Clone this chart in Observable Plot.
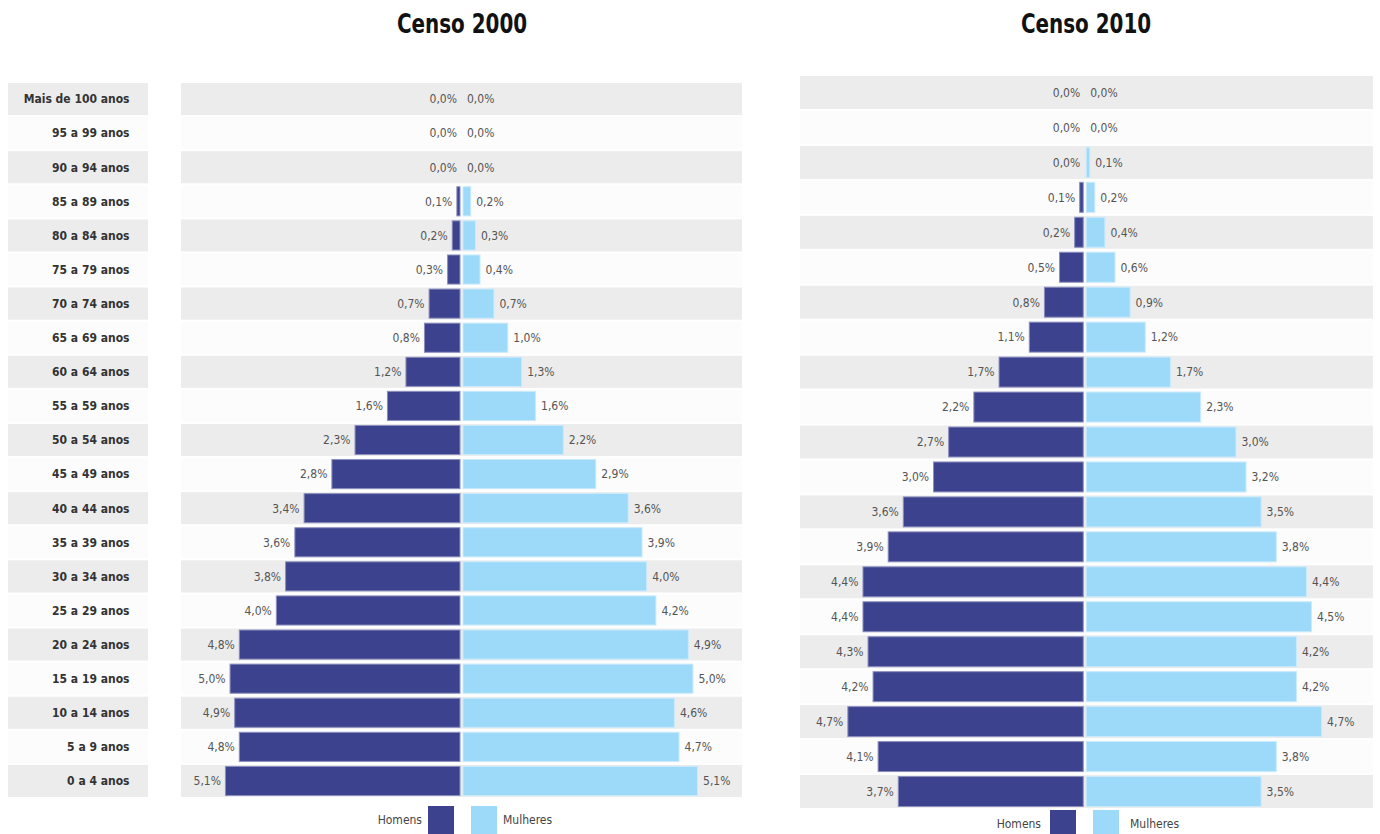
<!DOCTYPE html>
<html>
<head>
<meta charset="utf-8">
<script src="https://cdn.jsdelivr.net/npm/d3@7"></script>
<script src="https://cdn.jsdelivr.net/npm/@observablehq/plot@0.6"></script>
<style>
  html, body { margin: 0; padding: 0; background: #fff; }
  #root { position: relative; width: 1380px; height: 834px; overflow: hidden;
          font-family: "Liberation Sans Narrow", "Arial Narrow", "DejaVu Sans Condensed", sans-serif; }
  .abs { position: absolute; }
  .title { font-weight: bold; font-size: 27px; color: #111; text-align: center; width: 300px; top: 8px;
           transform: scaleX(0.82); transform-origin: center; }
  .leg { font-size: 12px; color: #444; }
  .sq { width: 26px; height: 28px; }
</style>
</head>
<body>
<div id="root"></div>
<script>
const ages = ["Mais de 100 anos","95 a 99 anos","90 a 94 anos","85 a 89 anos","80 a 84 anos","75 a 79 anos","70 a 74 anos","65 a 69 anos","60 a 64 anos","55 a 59 anos","50 a 54 anos","45 a 49 anos","40 a 44 anos","35 a 39 anos","30 a 34 anos","25 a 29 anos","20 a 24 anos","15 a 19 anos","10 a 14 anos","5 a 9 anos","0 a 4 anos"];
const homens2000   = [0.0,0.0,0.0,0.1,0.2,0.3,0.7,0.8,1.2,1.6,2.3,2.8,3.4,3.6,3.8,4.0,4.8,5.0,4.9,4.8,5.1];
const mulheres2000 = [0.0,0.0,0.0,0.2,0.3,0.4,0.7,1.0,1.3,1.6,2.2,2.9,3.6,3.9,4.0,4.2,4.9,5.0,4.6,4.7,5.1];
const homens2010   = [0.0,0.0,0.0,0.1,0.2,0.5,0.8,1.1,1.7,2.2,2.7,3.0,3.6,3.9,4.4,4.4,4.3,4.2,4.7,4.1,3.7];
const mulheres2010 = [0.0,0.0,0.1,0.2,0.4,0.6,0.9,1.2,1.7,2.3,3.0,3.2,3.5,3.8,4.4,4.5,4.2,4.2,4.7,3.8,3.5];
const titles = ["Censo 2000", "Censo 2010"];
const seriesNames = ["Homens", "Mulheres"];
const xDomain2000 = [-6.06, 6.06];
const xDomain2010 = [-5.65, 5.72];

const colMen = "#3c428d", colWomen = "#9dd9f9", colBand = "#ececec";
const FONT = '"Liberation Sans Narrow", "Arial Narrow", "DejaVu Sans Condensed", sans-serif';
const fmt = v => d3.format(".1f")(v).replace(".", ",") + "%";
const root = document.getElementById("root");

function place(el, left, top) {
  el.classList.add("abs");
  el.style.left = left + "px";
  el.style.top = top + "px";
  root.appendChild(el);
  return el;
}

function pyramid(men, women, xDomain, width, height) {
  const rows = ages.map((a, i) => ({age: a, i, men: men[i], women: women[i]}));
  return Plot.plot({
    width, height,
    marginTop: 22, marginBottom: 22, marginLeft: 0, marginRight: 0,
    style: {fontFamily: FONT, fontSize: "12px", background: "transparent"},
    x: {domain: xDomain, axis: null},
    y: {domain: ages, axis: null, padding: 0, round: false},
    marks: [
      Plot.barX(rows, {x1: () => xDomain[0], x2: () => xDomain[1], y: "age",
        fill: d => d.i % 2 === 0 ? colBand : "#fcfcfc", insetTop: 1, insetBottom: 1}),
      Plot.barX(rows, {x1: () => 0, x2: d => -d.men, y: "age", fill: colMen,
        stroke: "#8a8dbd", strokeWidth: 1, insetTop: 2.5, insetBottom: 2.5, insetRight: 1.5}),
      Plot.barX(rows, {x1: () => 0, x2: d => d.women, y: "age", fill: colWomen,
        stroke: "#c8ebfc", strokeWidth: 1, insetTop: 2.5, insetBottom: 2.5, insetLeft: 1.5}),
      Plot.text(rows, {x: d => -d.men, y: "age", text: d => fmt(d.men), textAnchor: "end", dx: -5,
        fill: "#555", fontSize: 12}),
      Plot.text(rows, {x: d => d.women, y: "age", text: d => fmt(d.women), textAnchor: "start", dx: 5,
        fill: "#555", fontSize: 12})
    ]
  });
}

function labelColumn(width, height) {
  const rows = ages.map((a, i) => ({age: a, i}));
  return Plot.plot({
    width, height,
    marginTop: 22, marginBottom: 22, marginLeft: 0, marginRight: 0,
    style: {fontFamily: FONT, fontSize: "12px", background: "transparent"},
    x: {domain: [0, 1], axis: null},
    y: {domain: ages, axis: null, padding: 0, round: false},
    marks: [
      Plot.barX(rows, {x1: () => 0, x2: () => 1, y: "age",
        fill: d => d.i % 2 === 0 ? colBand : "#fcfcfc", insetTop: 1, insetBottom: 1}),
      Plot.text(rows, {y: "age", text: "age", frameAnchor: "right", textAnchor: "end", dx: -19,
        fill: "#333", fontSize: 12, fontWeight: "bold"})
    ]
  });
}

// titles
const t1 = document.createElement("div"); t1.className = "title"; t1.textContent = titles[0]; place(t1, 312, 8);
const t2 = document.createElement("div"); t2.className = "title"; t2.textContent = titles[1]; place(t2, 936, 8);

// charts
place(labelColumn(140, 760), 8, 60);
place(pyramid(homens2000, mulheres2000, xDomain2000, 561, 760), 181, 60);
place(pyramid(homens2010, mulheres2010, xDomain2010, 573, 778), 800, 53);

// legends
function legend(xTextMen, xSqMen, xSqWomen, xTextWomen, top) {
  const a = document.createElement("div"); a.className = "leg"; a.textContent = seriesNames[0];
  a.style.width = "60px"; a.style.textAlign = "right";
  place(a, xTextMen - 60, top + 7);
  const s1 = document.createElement("div"); s1.className = "sq"; s1.style.background = colMen; place(s1, xSqMen, top);
  const s2 = document.createElement("div"); s2.className = "sq"; s2.style.background = colWomen; place(s2, xSqWomen, top);
  const b = document.createElement("div"); b.className = "leg"; b.textContent = seriesNames[1];
  place(b, xTextWomen, top + 7);
}
legend(422, 428, 471, 503, 806);
legend(1041, 1050, 1093, 1130, 810);
</script>
</body>
</html>
